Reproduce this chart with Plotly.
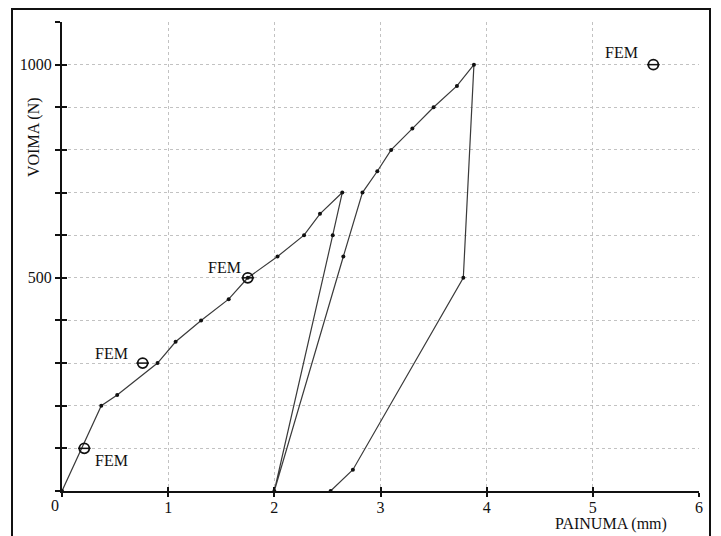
import plotly.graph_objects as go

# Measured load path (displacement mm, force N)
path_x = [0, 0.37, 0.52, 0.90, 1.07, 1.31, 1.57, 1.75, 2.03, 2.28, 2.43, 2.64,
          2.55, 2.00,
          2.65, 2.83, 2.97, 3.10, 3.30, 3.50, 3.72, 3.88,
          3.78, 2.74, 2.53]
path_y = [0, 200, 225, 300, 350, 400, 450, 500, 550, 600, 650, 700,
          600, 0,
          550, 700, 750, 800, 850, 900, 950, 1000,
          500, 50, 0]

# FEM points
fem_x = [0.21, 0.76, 1.75, 5.57]
fem_y = [100, 300, 500, 1000]
fem_label = "FEM"

x_ticks = [0, 1, 2, 3, 4, 5, 6]
x_ticktext = ["", "1", "2", "3", "4", "5", "6"]
y_ticks = list(range(0, 1101, 100))
y_ticktext = ["" if v not in (500, 1000) else str(v) for v in y_ticks]

x_title = "PAINUMA (mm)"
y_title = "VOIMA (N)"

FONT = "Liberation Serif, Times New Roman, serif"
W, H = 721, 536
ML, MR, MT, MB = 62, 22, 22, 45
PW, PH = W - ML - MR, H - MT - MB


def px(xp):
    return (xp - ML) / PW


def py(yp):
    return (MT + PH - yp) / PH


fig = go.Figure()
fig.add_trace(go.Scatter(x=path_x, y=path_y, mode="lines+markers",
                         line=dict(color="#3a3a3a", width=1.2),
                         marker=dict(color="#111", size=4),
                         showlegend=False, hoverinfo="skip"))
fig.add_trace(go.Scatter(x=fem_x, y=fem_y, mode="markers",
                         marker=dict(symbol="circle-open", size=10, color="#111",
                                     line=dict(width=1.8, color="#111")),
                         showlegend=False))
fig.add_trace(go.Scatter(x=fem_x, y=fem_y, mode="markers",
                         marker=dict(symbol="line-ew-open", size=9, color="#111",
                                     line=dict(width=1.5, color="#111")),
                         showlegend=False))
# empty trace so that overlay axes (crossing ticks) render
fig.add_trace(go.Scatter(x=[None], y=[None], xaxis="x2", yaxis="y2",
                         showlegend=False, hoverinfo="skip"))

shifts = [(27, -12), (-31, 10), (-23, 10), (-32, 12)]
for (fx, fy), (dx, dy) in zip(zip(fem_x, fem_y), shifts):
    fig.add_annotation(x=fx, y=fy, text=fem_label, showarrow=False,
                       xshift=dx, yshift=dy, xanchor="center", yanchor="middle",
                       font=dict(family=FONT, size=16, color="#111"))

grid = dict(showgrid=True, gridcolor="#c2c2c2", gridwidth=1, griddash="dot")
fig.update_layout(
    width=W, height=H,
    margin=dict(l=ML, r=MR, t=MT, b=MB, pad=0),
    paper_bgcolor="white", plot_bgcolor="white",
    font=dict(family=FONT, size=16, color="#111"),
    xaxis=dict(range=[0, 6], tickvals=x_ticks, ticktext=x_ticktext,
               ticks="outside", ticklen=4, tickwidth=2, tickcolor="#111",
               ticklabelstandoff=-3,
               showline=True, linecolor="#111", linewidth=2,
               zeroline=False, fixedrange=True, **grid,
               tickfont=dict(family=FONT, size=16, color="#111")),
    yaxis=dict(range=[0, 1100], tickvals=y_ticks, ticktext=y_ticktext,
               ticks="outside", ticklen=5, tickwidth=2, tickcolor="#111",
               showline=True, linecolor="#111", linewidth=2,
               zeroline=False, fixedrange=True, **grid,
               tickfont=dict(family=FONT, size=16, color="#111")),
    xaxis2=dict(range=[0, 6], overlaying="x", tickvals=x_ticks, ticks="inside",
                ticklen=4, tickwidth=2, tickcolor="#111", showticklabels=False,
                showgrid=False, zeroline=False, showline=False, anchor="y2"),
    yaxis2=dict(range=[0, 1100], overlaying="y", tickvals=y_ticks, ticks="inside",
                ticklen=5, tickwidth=2, tickcolor="#111", showticklabels=False,
                showgrid=False, zeroline=False, showline=False, anchor="x2"),
)

# corner "0" label, axis titles
fig.add_annotation(xref="paper", yref="paper", x=px(55), y=py(505),
                   xanchor="center", yanchor="middle",
                   text="0", showarrow=False, font=dict(family=FONT, size=16, color="#111"))
fig.add_annotation(xref="paper", yref="paper", x=px(34), y=py(137),
                   xanchor="center", yanchor="middle",
                   text=y_title, textangle=-90, showarrow=False,
                   font=dict(family=FONT, size=16, color="#111"))
fig.add_annotation(xref="paper", yref="paper", x=px(611), y=py(524),
                   xanchor="center", yanchor="middle",
                   text=x_title, showarrow=False,
                   font=dict(family=FONT, size=16, color="#111"))

# outer frame
fig.add_shape(type="rect", xref="paper", yref="paper",
              x0=px(12), x1=px(710), y0=py(545), y1=py(9),
              line=dict(color="#111", width=2), layer="below")

fig.write_html("out.html")
